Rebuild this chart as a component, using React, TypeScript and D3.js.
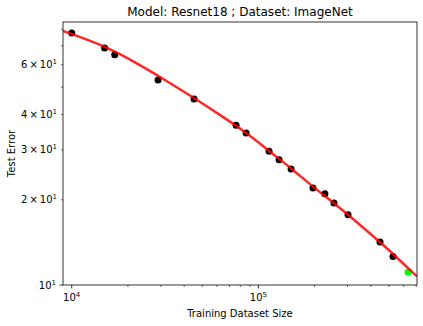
import React from "react";
import * as d3 from "d3";

const sizes = [10000, 15000, 17000, 29000, 45200, 75900, 85900, 114000, 129000, 149600, 196000, 227000, 254000, 302000, 448000, 526000];
const errors = [77.7, 68.7, 65.0, 53.0, 45.4, 36.7, 34.4, 29.7, 27.7, 25.7, 22.0, 21.0, 19.5, 17.7, 14.2, 12.6];
const extraSize = [633000];
const extraError = [11.1];
const fitSizes = [8980, 14180, 21830, 33610, 45190, 62280, 86900, 114000, 151400, 196100, 254100, 321100, 453600, 707000];
const fitErrors = [78.97, 71.06, 61.4, 51.7, 45.8, 39.87, 34.44, 29.75, 25.7, 22.2, 19.49, 17.11, 14.13, 10.72];
const xMajor = [10000, 100000];
const xMinor = [20000, 30000, 40000, 50000, 60000, 70000, 80000, 90000, 200000, 300000, 400000, 500000, 600000, 700000];
const yMajor = [10];
const yMinor = [20, 30, 40, 50, 60, 70, 80];
const yMinorLabels: Record<number, string> = { 20: "2", 30: "3", 40: "4", 60: "6" };

const W = 423, H = 326;
const L = 63, R = 417, T = 22, B = 285;

export default function App() {
  const x = d3.scaleLog().domain([8980, 707000]).range([L, R]);
  const y = d3.scaleLog().domain([10, 84.9]).range([B, T]);
  const fit = fitSizes.map((s, i) => [x(s), y(fitErrors[i])] as [number, number]);
  const line = d3.line().curve(d3.curveBasis)(fit) || "";
  const font = "DejaVu Sans";
  return (
    <svg width={W} height={H} style={{ position: "absolute", left: 0, top: 0 }} fontFamily={font}>
      <rect x={0} y={0} width={W} height={H} fill="#fff" />
      <text x={(L + R) / 2} y={16} textAnchor="middle" fontSize={12}>Model: Resnet18 ; Dataset: ImageNet</text>
      <defs>
        <clipPath id="clip"><rect x={L} y={T} width={R - L} height={B - T} /></clipPath>
      </defs>
      <g clipPath="url(#clip)">
        {sizes.map((s, i) => (
          <circle key={i} cx={x(s)} cy={y(errors[i])} r={3.5} fill="#000" />
        ))}
        {extraSize.map((s, i) => (
          <circle key={"g" + i} cx={x(s)} cy={y(extraError[i])} r={3.5} fill="#00ff00" />
        ))}
        <path d={line} fill="none" stroke="#ff0000" strokeOpacity={0.85} strokeWidth={2.5} />
      </g>
      <rect x={L} y={T} width={R - L} height={B - T} fill="none" stroke="#000" strokeWidth={0.8} />
      {xMajor.map((v) => (
        <g key={v}>
          <line x1={x(v)} x2={x(v)} y1={B} y2={B + 3.5} stroke="#000" strokeWidth={0.8} />
          <text x={x(v)} y={B + 16} textAnchor="middle" fontSize={10}>
            10<tspan fontSize={7} dy={-4}>{Math.round(Math.log10(v))}</tspan>
          </text>
        </g>
      ))}
      {xMinor.map((v) => (
        <line key={v} x1={x(v)} x2={x(v)} y1={B} y2={B + 2} stroke="#000" strokeWidth={0.6} />
      ))}
      {yMajor.map((v) => (
        <g key={v}>
          <line x1={L} x2={L - 3.5} y1={y(v)} y2={y(v)} stroke="#000" strokeWidth={0.8} />
          <text x={L - 7} y={y(v) + 3.5} textAnchor="end" fontSize={10}>
            10<tspan fontSize={7} dy={-4}>1</tspan>
          </text>
        </g>
      ))}
      {yMinor.map((v) => (
        <g key={v}>
          <line x1={L} x2={L - 2} y1={y(v)} y2={y(v)} stroke="#000" strokeWidth={0.6} />
          {yMinorLabels[v] && (
            <text x={L - 6} y={y(v) + 3.5} textAnchor="end" fontSize={10}>
              {yMinorLabels[v]}{"\u2009\u00d7\u2009"}10<tspan fontSize={7} dy={-4}>1</tspan>
            </text>
          )}
        </g>
      ))}
      <text x={(L + R) / 2} y={317} textAnchor="middle" fontSize={10}>Training Dataset Size</text>
      <text transform={`translate(15,${(T + B) / 2}) rotate(-90)`} textAnchor="middle" fontSize={10}>Test Error</text>
    </svg>
  );
}
